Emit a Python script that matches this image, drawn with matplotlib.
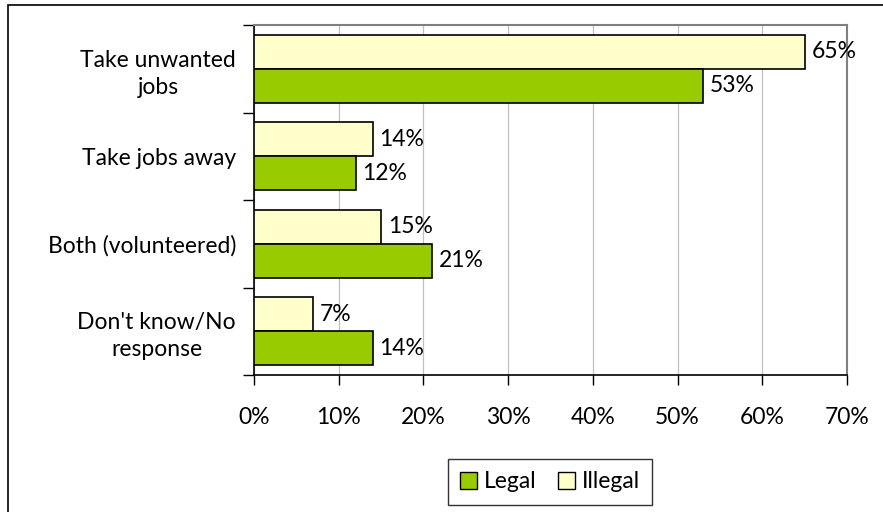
import matplotlib
matplotlib.use("Agg")
import matplotlib.pyplot as plt
from matplotlib.patches import Rectangle, Patch
from matplotlib.ticker import FixedLocator, NullFormatter

plt.rcParams['font.family'] = ['Lato', 'DejaVu Sans']

categories = ["Take unwanted\njobs", "Take jobs away", "Both (volunteered)", "Don't know/No\nresponse"]
illegal = [65, 14, 15, 7]
legal = [53, 12, 21, 14]
x_ticks = [0, 10, 20, 30, 40, 50, 60, 70]

W, H = 883, 512
FS = 16.5
fig = plt.figure(figsize=(W / 100, H / 100), dpi=100)

# outer chart frame
fig.patches.append(Rectangle((8 / W, -0.01), 1.0, 1 - 5 / H + 0.01, transform=fig.transFigure,
                             fill=False, edgecolor='black', linewidth=1.2))

ax = fig.add_axes([254 / W, 1 - 375 / H, (847 - 254) / W, (375 - 25) / H])

h = 0.39
ys = list(range(len(categories)))
ill_colour = '#FFFFCC'
leg_colour = '#99CC00'
ax.barh([y - h / 2 for y in ys], illegal, height=h, color=ill_colour, edgecolor='black', linewidth=1.2, zorder=3)
ax.barh([y + h / 2 for y in ys], legal, height=h, color=leg_colour, edgecolor='black', linewidth=1.2, zorder=3)

for y, v in zip(ys, illegal):
    ax.text(v + 0.8, y - h / 2, f"{v}%", va='center', ha='left', fontsize=FS, zorder=4)
for y, v in zip(ys, legal):
    ax.text(v + 0.8, y + h / 2, f"{v}%", va='center', ha='left', fontsize=FS, zorder=4)

ax.set_xlim(0, 70)
ax.set_ylim(len(categories) - 0.5, -0.5)
ax.xaxis.set_major_locator(FixedLocator(x_ticks))
ax.set_xticklabels([f"{t}%" for t in x_ticks], fontsize=FS)
ax.grid(axis='x', color='#C0C0C0', linewidth=0.9, zorder=0)

# category labels between boundary ticks
ax.yaxis.set_major_locator(FixedLocator([y - 0.5 for y in ys] + [len(ys) - 0.5]))
ax.yaxis.set_major_formatter(NullFormatter())
ax.yaxis.set_minor_locator(FixedLocator(ys))
ax.set_yticklabels(categories, minor=True, fontsize=FS, ha='right', multialignment='center',
                   linespacing=1.35)
ax.tick_params(axis='y', which='minor', length=0, pad=13)
ax.tick_params(axis='y', which='major', length=8, width=1, direction='out')
ax.tick_params(axis='x', length=7, width=1, direction='out', pad=16)

for s in ['left', 'bottom']:
    ax.spines[s].set_color('black')
    ax.spines[s].set_linewidth(1.2)
for s in ['top', 'right']:
    ax.spines[s].set_color('#808080')
    ax.spines[s].set_linewidth(1.5)

handles = [Patch(facecolor=leg_colour, edgecolor='black', label='Legal'),
           Patch(facecolor=ill_colour, edgecolor='black', label='Illegal')]
leg = fig.legend(handles=handles, loc='center', bbox_to_anchor=(550 / W, 1 - 482 / H), ncol=2,
                 fontsize=FS, frameon=True, fancybox=False, edgecolor='black',
                 handlelength=0.75, handleheight=0.75, handletextpad=0.3, columnspacing=0.9,
                 borderpad=0.55, borderaxespad=0)
leg.get_frame().set_linewidth(1.0)

fig.savefig("out.png", dpi=100)
